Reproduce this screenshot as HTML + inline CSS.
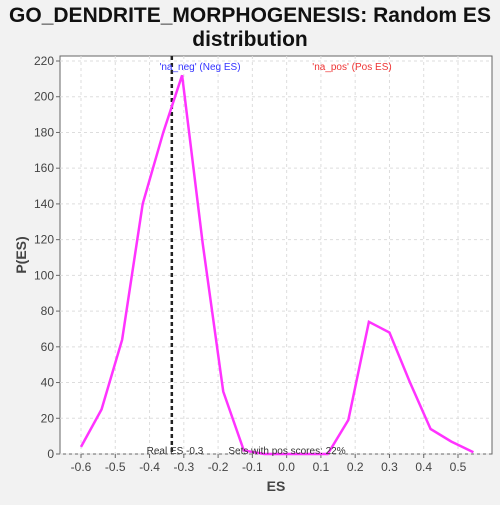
<!DOCTYPE html>
<html><head><meta charset="utf-8"><style>
body{margin:0;background:#f2f2f2;width:500px;height:500px;overflow:hidden;font-family:"Liberation Sans","DejaVu Sans",sans-serif}
</style></head><body>
<svg id="c" width="500" height="500" xmlns="http://www.w3.org/2000/svg">
<text x="250" y="22" text-anchor="middle" font-size="21" font-weight="bold" fill="#111">GO_DENDRITE_MORPHOGENESIS: Random ES</text>
<text x="250" y="46" text-anchor="middle" font-size="21" font-weight="bold" fill="#111">distribution</text>
<rect x="60" y="56" width="432" height="398" fill="#fff" stroke="#666"/>
<g id="grid"></g><g id="axes"></g><g id="marks"></g>
<text x="276" y="491" text-anchor="middle" font-size="14" font-weight="bold" fill="#444">ES</text>
<text transform="translate(26,255) rotate(-90)" text-anchor="middle" font-size="14" font-weight="bold" fill="#444">P(ES)</text>
<text x="200" y="70" text-anchor="middle" font-size="10" fill="#3333ff">'na_neg' (Neg ES)</text>
<text x="352" y="70" text-anchor="middle" font-size="10" fill="#ee3333">'na_pos' (Pos ES)</text>
<text x="175" y="454" text-anchor="middle" font-size="10" fill="#333">Real ES -0.3</text>
<text x="287" y="454" text-anchor="middle" font-size="10" fill="#333">Sets with pos scores: 22%</text>
</svg>
<script>
const esValues=[-0.6,-0.54,-0.48,-0.42,-0.36,-0.305,-0.245,-0.185,-0.125,-0.065,-0.004,0.057,0.12,0.18,0.24,0.30,0.36,0.42,0.48,0.545];
const densities=[4,25,64,140,180,212,118,35,2,0,0,0,0,19,74,68,40,14,7,1];
const xTicks=[-0.6,-0.5,-0.4,-0.3,-0.2,-0.1,0.0,0.1,0.2,0.3,0.4,0.5];
const yTicks=[0,20,40,60,80,100,120,140,160,180,200,220];
const realES=-0.335;
const X=v=>81+(v+0.6)/1.1*377, Y=v=>454-v*393/220;
const NS="http://www.w3.org/2000/svg";
function mk(t,a,p){const e=document.createElementNS(NS,t);for(const k in a)e.setAttribute(k,a[k]);p.appendChild(e);return e;}
const g=document.getElementById('grid'),ax=document.getElementById('axes'),m=document.getElementById('marks');
xTicks.forEach(t=>{const x=X(t);
const l=mk('line',{x1:x,x2:x,y1:56,y2:454,stroke:'#ddd','stroke-dasharray':'3,3'},g);


mk('line',{x1:x,x2:x,y1:454,y2:458,stroke:'#666'},ax);
const tx=mk('text',{x:x,y:471,'text-anchor':'middle','font-size':12,fill:'#444'},ax);tx.textContent=t.toFixed(1);

});
yTicks.forEach(t=>{const y=Y(t);
const l=mk('line',{x1:60,x2:492,y1:y,y2:y,stroke:'#ddd','stroke-dasharray':'3,3'},g);


mk('line',{x1:56,x2:60,y1:y,y2:y,stroke:'#666'},ax);
const tx=mk('text',{x:54,y:y+4,'text-anchor':'end','font-size':12,fill:'#444'},ax);tx.textContent=t;

});
const rl=mk('line',{x1:X(realES),x2:X(realES),y1:56,y2:454,stroke:'#222','stroke-width':2.5,'stroke-dasharray':'4,3'},m);


const pl=mk('polyline',{points:esValues.map((v,i)=>X(v)+','+Y(densities[i])).join(' '),fill:'none',stroke:'#ff33ff','stroke-width':2.5},m);


</script>
</body></html>
